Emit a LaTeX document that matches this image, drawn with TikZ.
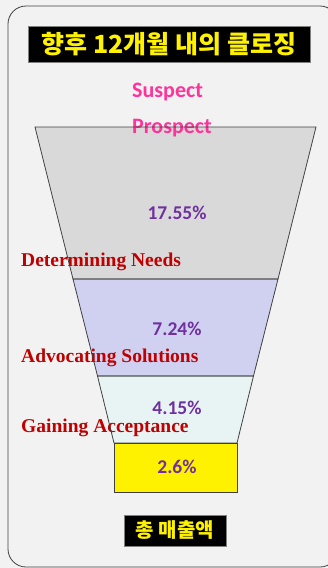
\documentclass[tikz,border=0pt]{standalone}
\usepackage{fontspec}
\setmainfont{Liberation Serif}
\newfontfamily\kofont{Noto Sans CJK KR}
\newfontfamily\calfont{Carlito}
\usetikzlibrary{positioning}

\definecolor{bggray}{HTML}{F2F2F2}
\definecolor{linegray}{HTML}{404040}
\definecolor{stagegray}{HTML}{D9D9D9}
\definecolor{stagelav}{HTML}{D0D0F0}
\definecolor{stagemint}{HTML}{E8F4F4}
\definecolor{stagered}{HTML}{C00000}
\definecolor{ratepurple}{HTML}{7030A0}
\definecolor{leadpink}{HTML}{FF3399}

\begin{document}
\begin{tikzpicture}[x=1pt, y=-1pt,
  banner/.style={fill=black, draw=gray, text=yellow, inner sep=0pt,
    font=\kofont\bfseries\fontsize{25}{25}\selectfont},
  lead/.style={anchor=base west, inner sep=0pt, text=leadpink,
    font=\calfont\bfseries\fontsize{22}{22}\selectfont},
  stage/.style={anchor=base west, inner sep=0pt, text=stagered,
    font=\bfseries\fontsize{19.5}{20}\selectfont},
  rate/.style={anchor=base, inner sep=0pt, text=ratepurple,
    font=\calfont\bfseries\fontsize{19.5}{20}\selectfont},
  edge/.style={draw=linegray, line width=0.8pt}]
  \fill[bggray] (0,0) rectangle (328,568);
  \useasboundingbox (0,0) rectangle (328,568);
  \draw[edge, rounded corners=18pt] (8,6) rectangle (338,567);

  % funnel corners
  \coordinate (t1) at (35,127);   \coordinate (t2) at (316,127);
  \coordinate (a1) at (73,279);   \coordinate (a2) at (278,279);
  \coordinate (b1) at (97.5,376); \coordinate (b2) at (253.5,376);
  \coordinate (c1) at (114,443);  \coordinate (c2) at (237,443);
  \coordinate (d1) at (114,492);  \coordinate (d2) at (237,492);

  \fill[stagegray] (t1) -- (t2) -- (a2) -- (a1) -- cycle;
  \fill[stagelav]  (a1) -- (a2) -- (b2) -- (b1) -- cycle;
  \fill[stagemint] (b1) -- (b2) -- (c2) -- (c1) -- cycle;
  \fill[yellow]    (c1) -- (c2) -- (d2) -- (d1) -- cycle;

  \node[banner, minimum width=282pt, minimum height=36pt] (head) at (169,44)
    {향후 12개월 내의 클로징};
  \node[lead] (suspect) at (132,97) {Suspect};
  \node[lead] (prospect) at (132,133) {Prospect};

  \node[rate] (r1) at (177,219) {17.55\%};
  \node[rate] (r2) at (177,335.5) {7.24\%};
  \node[rate] (r3) at (177,414) {4.15\%};
  \node[rate] (r4) at (177,473.5) {2.6\%};

  \node[stage] (needs) at (21,266.5) {Determining Needs};
  \node[stage] (solutions) at (21,362.5) {Advocating Solutions};
  \node[stage] (accept) at (21,432.5) {Gaining Acceptance};

  % outlines go on top of the labels
  \draw[edge] (t1) -- (t2) -- (a2) -- (a1) -- cycle;
  \draw[edge] (a1) -- (a2) -- (b2) -- (b1) -- cycle;
  \draw[edge] (b1) -- (b2) -- (c2) -- (c1) -- cycle;
  \draw[edge] (c1) -- (c2) -- (d2) -- (d1) -- cycle;

  \node[banner, font=\kofont\bfseries\fontsize{20}{20}\selectfont,
    minimum width=102pt, minimum height=31pt] (total) at (175,530.5)
    {총 매출액};
\end{tikzpicture}
\end{document}
